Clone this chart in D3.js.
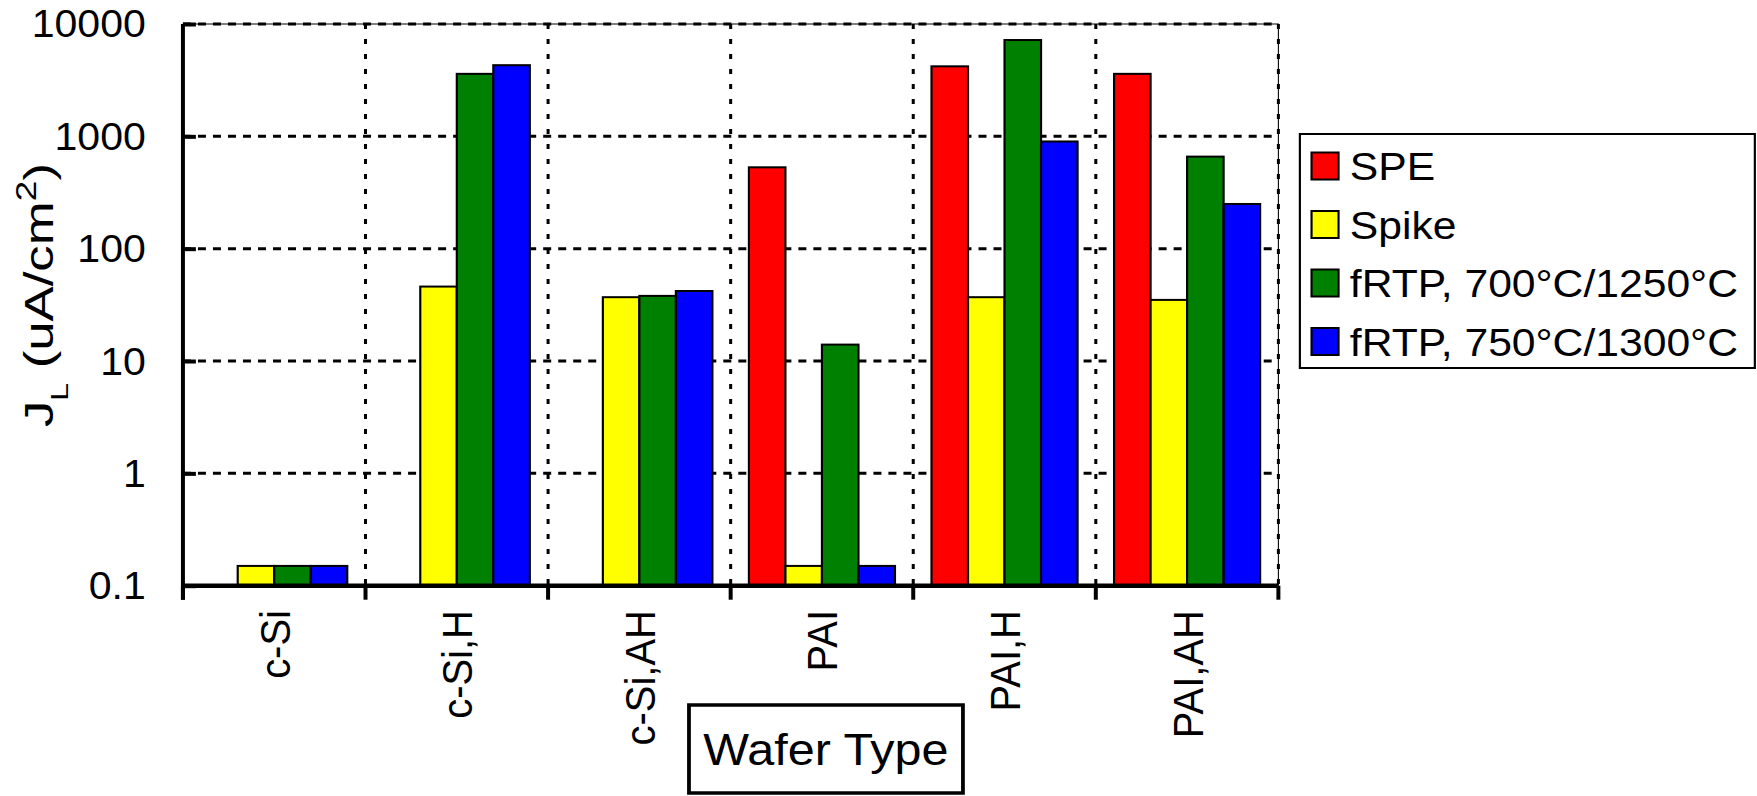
<!DOCTYPE html>
<html>
<head>
<meta charset="utf-8">
<script src="https://cdn.jsdelivr.net/npm/d3@7/dist/d3.min.js"></script>
<style>
  html, body { margin: 0; padding: 0; background: #ffffff; }
  svg { display: block; }
  text { font-family: "Liberation Sans", Arial, Helvetica, sans-serif; fill: #000; }
</style>
</head>
<body>
<div id="chart"></div>
<script>
// Wafer types along the x axis
const categories = ["c-Si", "c-Si,H", "c-Si,AH", "PAI", "PAI,H", "PAI,AH"];

// Anneal series (legend order) and their fill colours
const seriesNames = ["SPE", "Spike", "fRTP, 700°C/1250°C", "fRTP, 750°C/1300°C"];
const seriesColors = ["#ff0000", "#ffff00", "#008000", "#0000ff"];

// Leakage current density J_L (uA/cm^2) per wafer type; null = not measured
const speValues     = [null, null, null, 530, 4200, 3600];
const spikeValues   = [0.15, 46, 37, 0.15, 37, 35];
const fRTP700Values = [0.15, 3600, 38, 14, 7200, 660];
const fRTP750Values = [0.15, 4300, 42, 0.15, 900, 250];

// Log axis ticks
const yTickValues = [0.1, 1, 10, 100, 1000, 10000];
const yTickLabels = ["0.1", "1", "10", "100", "1000", "10000"];

const seriesValues = [speValues, spikeValues, fRTP700Values, fRTP750Values];

// Drawing is done in a slightly narrower user space and stretched to the window width
const W = 1757, H = 796, VBW = 1627;

const svg = d3.select("#chart").append("svg")
  .attr("width", W).attr("height", H)
  .attr("viewBox", `0 0 ${VBW} ${H}`)
  .attr("preserveAspectRatio", "none");

const plot = { left: 169.4, right: 1183.8, top: 24, bottom: 585.7 };

const x = d3.scaleBand().domain(categories).range([plot.left, plot.right]).padding(0);
const bw = x.bandwidth();
const xs = d3.scaleBand().domain(seriesNames).range([bw * 0.1, bw * 0.9]).padding(0);
const y = d3.scaleLog().domain([0.1, 10000]).range([plot.bottom, plot.top]);

// Dashed horizontal gridlines at each decade above the baseline
svg.append("g").selectAll("line")
  .data(yTickValues.slice(1))
  .join("line")
  .attr("x1", plot.left).attr("x2", plot.right)
  .attr("y1", d => y(d)).attr("y2", d => y(d))
  .attr("stroke", "#000").attr("stroke-width", 3)
  .attr("stroke-dasharray", "7.4 6.5");

// Dashed vertical gridlines at category boundaries (including the right edge)
const boundaries = categories.map(c => x(c) + bw);
svg.append("g").selectAll("line")
  .data(boundaries)
  .join("line")
  .attr("x1", d => d).attr("x2", d => d)
  .attr("y1", plot.top).attr("y2", plot.bottom)
  .attr("stroke", "#000").attr("stroke-width", 2.8)
  .attr("stroke-dasharray", "5 10");

// Thin frame along the top and right of the plot area
svg.append("path")
  .attr("d", `M${plot.left},${plot.top}H${plot.right}V${plot.bottom}`)
  .attr("fill", "none").attr("stroke", "#000").attr("stroke-width", 1);

// Bars
const barData = [];
categories.forEach((c, i) => {
  seriesNames.forEach((s, j) => {
    const v = seriesValues[j][i];
    if (v != null) barData.push({ c, s, v, color: seriesColors[j] });
  });
});

svg.append("g").selectAll("rect")
  .data(barData)
  .join("rect")
  .attr("x", d => x(d.c) + xs(d.s))
  .attr("width", xs.bandwidth())
  .attr("y", d => y(d.v))
  .attr("height", d => y(0.1) - y(d.v))
  .attr("fill", d => d.color)
  .attr("stroke", "#000").attr("stroke-width", 2);

// Y axis: solid line, inward ticks, labels on the left
const yAxis = d3.axisRight(y).tickValues(yTickValues).tickSize(12).tickFormat(() => "");
const gy = svg.append("g").attr("transform", `translate(${plot.left},0)`).call(yAxis);
gy.select(".domain").remove();
gy.selectAll(".tick line").attr("stroke", "#000").attr("stroke-width", 4);
svg.append("line")
  .attr("x1", plot.left).attr("x2", plot.left)
  .attr("y1", plot.top).attr("y2", plot.bottom + 14)
  .attr("stroke", "#000").attr("stroke-width", 3.7);

svg.append("g").selectAll("text")
  .data(yTickValues)
  .join("text")
  .attr("x", 135)
  .attr("y", d => y(d) + 13.5)
  .attr("text-anchor", "end")
  .attr("font-size", 38)
  .text((d, i) => yTickLabels[i]);

// X axis: solid baseline with downward ticks at category boundaries
svg.append("line")
  .attr("x1", plot.left).attr("x2", plot.right)
  .attr("y1", plot.bottom).attr("y2", plot.bottom)
  .attr("stroke", "#000").attr("stroke-width", 4.5);

svg.append("g").selectAll("line")
  .data([plot.left].concat(boundaries))
  .join("line")
  .attr("x1", d => d).attr("x2", d => d)
  .attr("y1", plot.bottom).attr("y2", plot.bottom + 14)
  .attr("stroke", "#000").attr("stroke-width", 3.7);

// Rotated category labels
svg.append("g").selectAll("text")
  .data(categories)
  .join("text")
  .attr("transform", d => `translate(${x(d) + bw / 2 + 14.3},610) rotate(-90)`)
  .attr("text-anchor", "end")
  .attr("font-size", 40)
  .text(d => d);

// Y axis title with subscript and superscript
const title = svg.append("text")
  .attr("transform", "translate(49,295) rotate(-90)")
  .attr("text-anchor", "middle")
  .attr("font-size", 38)
  .attr("textLength", 264)
  .attr("lengthAdjust", "spacingAndGlyphs");
title.append("tspan").text("J");
title.append("tspan").attr("font-size", 23).attr("dy", 14).text("L");
title.append("tspan").attr("dy", -14).text(" (uA/cm");
title.append("tspan").attr("font-size", 27).attr("dy", -16).text("2");
title.append("tspan").attr("dy", 16).text(")");

// X axis title in a box
svg.append("rect")
  .attr("x", 638).attr("y", 705)
  .attr("width", 253.7).attr("height", 88)
  .attr("fill", "#fff").attr("stroke", "#000").attr("stroke-width", 3.5);
svg.append("text")
  .attr("x", 764.8).attr("y", 765.5)
  .attr("text-anchor", "middle")
  .attr("font-size", 45)
  .attr("textLength", 227)
  .attr("lengthAdjust", "spacingAndGlyphs")
  .text("Wafer Type");

// Legend
const legend = svg.append("g");
legend.append("rect")
  .attr("x", 1203.7).attr("y", 134)
  .attr("width", 1625 - 1203.7).attr("height", 368 - 134)
  .attr("fill", "#fff").attr("stroke", "#000").attr("stroke-width", 2);

const rowY = d3.scalePoint().domain(seriesNames).range([166, 341.5]);
const rows = legend.selectAll("g.row")
  .data(seriesNames)
  .join("g").attr("class", "row")
  .attr("transform", d => `translate(0,${rowY(d)})`);
rows.append("rect")
  .attr("x", 1214.5).attr("y", -13.5)
  .attr("width", 25).attr("height", 27)
  .attr("fill", (d, i) => seriesColors[i])
  .attr("stroke", "#000").attr("stroke-width", 2);
rows.append("text")
  .attr("x", 1250).attr("y", 14)
  .attr("font-size", 39.5)
  .text(d => d);
</script>
</body>
</html>
